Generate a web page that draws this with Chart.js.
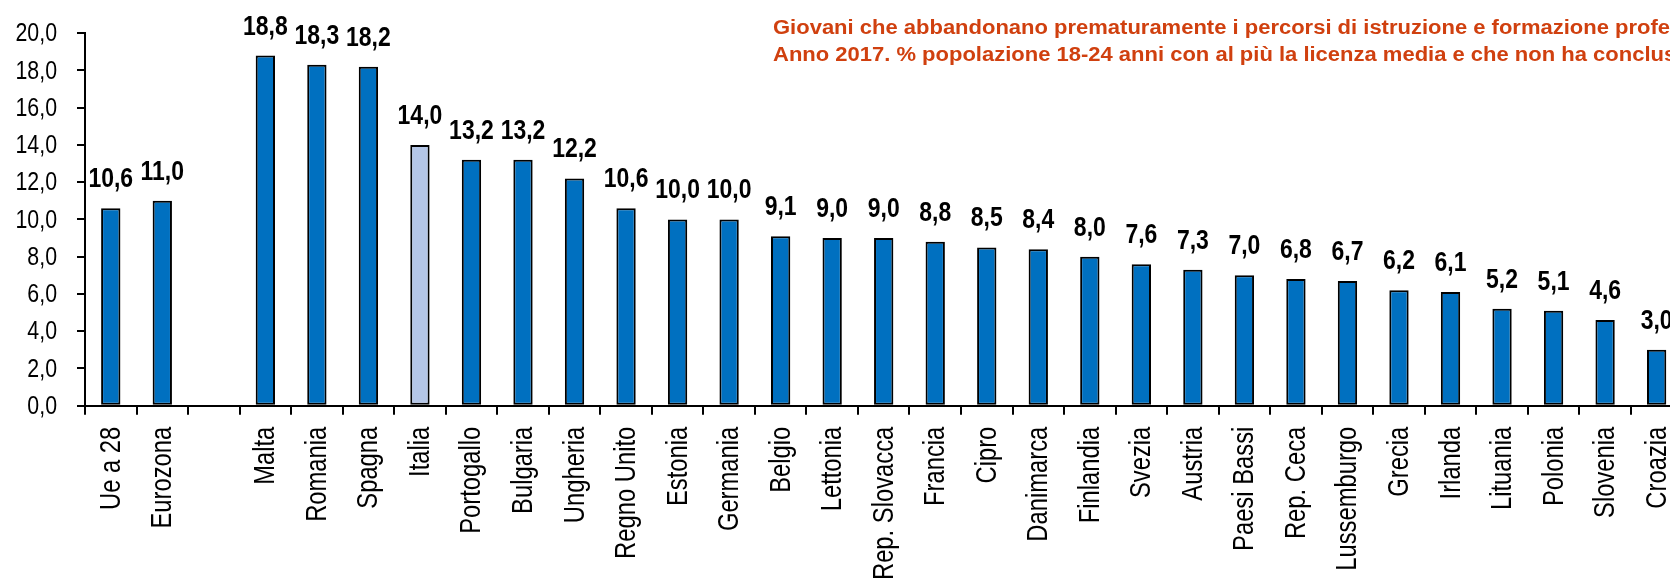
<!DOCTYPE html>
<html>
<head>
<meta charset="utf-8">
<script src="https://cdn.jsdelivr.net/npm/chart.js@4.4.1/dist/chart.umd.min.js"></script>
<style>
  html, body { margin: 0; padding: 0; background: #fff; overflow: hidden; width: 1670px; height: 580px; }
  #wrap { position: absolute; left: 0; top: 0; width: 1700px; height: 600px; }
</style>
</head>
<body>
<div id="wrap"><canvas id="c" width="1700" height="600"></canvas></div>
<script>
// ---- Data ----
const categories = ["Ue a 28", "Eurozona", "", "Malta", "Romania", "Spagna", "Italia", "Portogallo", "Bulgaria",
  "Ungheria", "Regno Unito", "Estonia", "Germania", "Belgio", "Lettonia", "Rep. Slovacca", "Francia", "Cipro",
  "Danimarca", "Finlandia", "Svezia", "Austria", "Paesi Bassi", "Rep. Ceca", "Lussemburgo", "Grecia", "Irlanda",
  "Lituania", "Polonia", "Slovenia", "Croazia"];
const values = [10.6, 11.0, null, 18.8, 18.3, 18.2, 14.0, 13.2, 13.2,
  12.2, 10.6, 10.0, 10.0, 9.1, 9.0, 9.0, 8.8, 8.5,
  8.4, 8.0, 7.6, 7.3, 7.0, 6.8, 6.7, 6.2, 6.1,
  5.2, 5.1, 4.6, 3.0];
const highlighted = ["Italia"];
const titleLines = [
  "Giovani che abbandonano prematuramente i percorsi di istruzione e formazione professionale.",
  "Anno 2017. % popolazione 18-24 anni con al più la licenza media e che non ha concluso un corso di formazione professionale"
];
const yTicksMin = 0, yTicksMax = 20, yTicksStep = 2;

// ---- Styles ----
const BLUE = "#0070C0";
const LIGHT = "#B4C6E7";
const TITLE_COLOR = "#D0400F";
const FONT = "'Liberation Sans', Arial, sans-serif";
const SQUEEZE = 0.82;
const fmt = v => v.toFixed(1).replace('.', ',');

const barColors = categories.map(c => highlighted.includes(c) ? LIGHT : BLUE);

function condensedText(ctx, text, x, y, align, baseline, rot) {
  ctx.save();
  ctx.translate(x, y);
  if (rot) ctx.rotate(rot);
  ctx.scale(SQUEEZE, 1);
  ctx.textAlign = align;
  ctx.textBaseline = baseline;
  ctx.fillText(text, 0, 0);
  ctx.restore();
}

const customText = {
  id: 'customText',
  afterDraw(chart) {
    const ctx = chart.ctx;
    const xs = chart.scales.x, ys = chart.scales.y;
    const area = chart.chartArea;
    ctx.save();
    ctx.fillStyle = "#000";
    // y tick labels
    ctx.font = "26px " + FONT;
    ys.ticks.forEach(t => {
      condensedText(ctx, fmt(t.value), area.left - 28, ys.getPixelForValue(t.value) + 1, "right", "middle");
    });
    // category labels
    ctx.font = "29px " + FONT;
    categories.forEach((c, i) => {
      if (!c) return;
      condensedText(ctx, c, xs.getPixelForValue(i) + 1, area.bottom + 21, "right", "middle", -Math.PI / 2);
    });
    // value labels
    ctx.font = "bold 28px " + FONT;
    const meta = chart.getDatasetMeta(0);
    meta.data.forEach((bar, i) => {
      const v = values[i];
      if (v === null || v === undefined) return;
      condensedText(ctx, fmt(v), bar.x, bar.y - 21, "center", "alphabetic");
    });
    // title
    ctx.fillStyle = TITLE_COLOR;
    ctx.font = "bold 20px " + FONT;
    const ref = "Giovani che abbandonano prematuramente i percorsi di istruzione e formazione profe";
    const sx = 897 / ctx.measureText(ref).width;
    const x0 = area.left + 688;
    [[titleLines[0], 34], [titleLines[1], 61]].forEach(([t, y]) => {
      ctx.save();
      ctx.translate(x0, y);
      ctx.scale(sx, 1);
      ctx.textAlign = "left";
      ctx.textBaseline = "alphabetic";
      ctx.fillText(t, 0, 0);
      ctx.restore();
    });
    ctx.restore();
  }
};

new Chart(document.getElementById('c'), {
  type: 'bar',
  data: {
    labels: categories,
    datasets: [{
      data: values,
      backgroundColor: barColors,
      borderColor: "#000",
      borderWidth: 2,
      borderSkipped: false,
      barPercentage: 0.375,
      categoryPercentage: 1.0
    }]
  },
  options: {
    responsive: false,
    animation: false,
    devicePixelRatio: 1,
    layout: { padding: { top: 32, right: 17.6, left: 0, bottom: 0 } },
    plugins: { legend: { display: false }, tooltip: { enabled: false }, title: { display: false } },
    scales: {
      x: {
        offset: true,
        grid: { display: true, drawOnChartArea: false, drawTicks: true, tickLength: 9, color: "#000", lineWidth: 2, offset: true },
        border: { display: true, color: "#000", width: 2 },
        ticks: {
          autoSkip: false, maxRotation: 90, minRotation: 90, padding: 12,
          color: "rgba(0,0,0,0)", font: { family: FONT, size: 24 }
        },
        afterFit(scale) { scale.height = 600 - 405.7; }
      },
      y: {
        min: yTicksMin, max: yTicksMax,
        grid: { display: true, drawOnChartArea: false, drawTicks: true, tickLength: 8, color: "#000", lineWidth: 2 },
        border: { display: true, color: "#000", width: 2 },
        ticks: {
          stepSize: yTicksStep, padding: 20, color: "rgba(0,0,0,0)",
          font: { family: FONT, size: 22 },
          callback: v => fmt(v)
        },
        afterFit(scale) { scale.width = 85; }
      }
    }
  },
  plugins: [customText]
});
</script>
</body>
</html>
